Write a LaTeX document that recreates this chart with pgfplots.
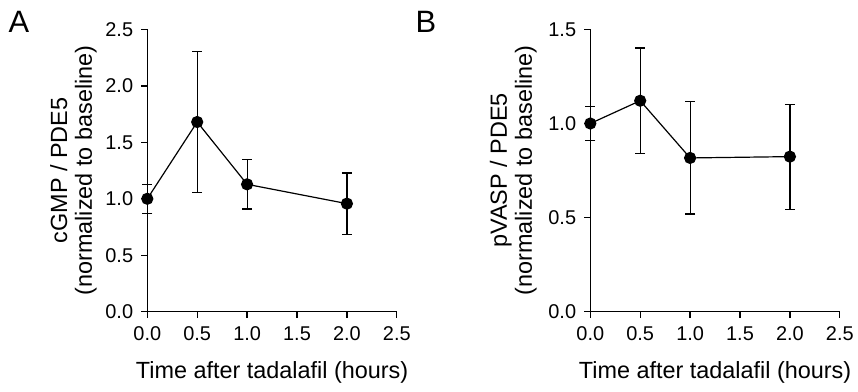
\documentclass[border=0pt]{standalone}
\usepackage{fontspec}
\setmainfont{Liberation Sans}
\usepackage{pgfplots}
\pgfplotsset{compat=1.18}
\newcommand\tickfont{\fontsize{20}{22}\selectfont}
\newcommand\labfont{\fontsize{23.5}{25}\selectfont}
\begin{document}
\begin{tikzpicture}
\path (0bp,0bp) rectangle (858bp,392bp);
\pgfplotsset{
  myax/.style={
    scale only axis,
    width=249.5bp, height=282.3bp,
    anchor=south west,
    axis lines=left,
    axis line style={-, line width=1.3bp},
    xmin=0, xmax=2.5, ymin=0,
    xtick={0,0.5,...,2.5},
    tick align=outside,
    major tick length=6bp,
    tick style={line width=1.3bp, black},
    xticklabel={\tickfont\pgfmathprintnumber[fixed,fixed zerofill,precision=1,assume math mode=true]{\tick}},
    yticklabel={\tickfont\pgfmathprintnumber[fixed,fixed zerofill,precision=1,assume math mode=true]{\tick}},
    yticklabel style={inner sep=0pt, anchor=east, xshift=-8bp},
    xticklabel style={inner sep=0pt, anchor=north, yshift=-9bp},
    xlabel={Time after tadalafil (hours)},
    every axis x label/.style={at={(axis description cs:0.5,-0.235)}, anchor=base, inner sep=0pt, font=\labfont},
    clip=false,
  },
  myplot/.style={black, line width=1.2bp, mark=*, mark size=5.5bp,
    error bars/.cd, y dir=both, y explicit,
    error bar style={line width=1.2bp, black},
    error mark options={rotate=90, mark size=5bp, line width=1.2bp}},
}
\begin{axis}[myax, at={(147.3bp,80.3bp)}, ymax=2.5, ytick={0,0.5,...,2.5},
  ylabel={cGMP / PDE5\\(normalized to baseline)},
  every axis y label/.style={at={(axis description cs:-0.2015,0.5)}, rotate=90, anchor=south, inner sep=0pt, align=center, font=\labfont}]
\addplot[myplot] coordinates {
  (0,1.00) +- (0,0.13)
  (0.5,1.68) +- (0,0.625)
  (1,1.128) +- (0,0.218)
  (2,0.957) +- (0,0.272)
};
\end{axis}
\begin{axis}[myax, at={(590.3bp,80.3bp)}, ymax=1.5, ytick={0,0.5,...,1.5},
  ylabel={pVASP / PDE5\\(normalized to baseline)},
  every axis y label/.style={at={(axis description cs:-0.214,0.5)}, rotate=90, anchor=south, inner sep=0pt, align=center, font=\labfont}]
\addplot[myplot] coordinates {
  (0,1.00) +- (0,0.092)
  (0.5,1.121) +- (0,0.28)
  (1,0.817) +- (0,0.298)
  (2,0.824) +- (0,0.279)
};
\end{axis}
\node[font=\fontsize{31}{33}\selectfont, inner sep=0pt, anchor=base] at (19bp,359bp) {A};
\node[font=\fontsize{31}{33}\selectfont, inner sep=0pt, anchor=base] at (426bp,359bp) {B};
\end{tikzpicture}
\end{document}
